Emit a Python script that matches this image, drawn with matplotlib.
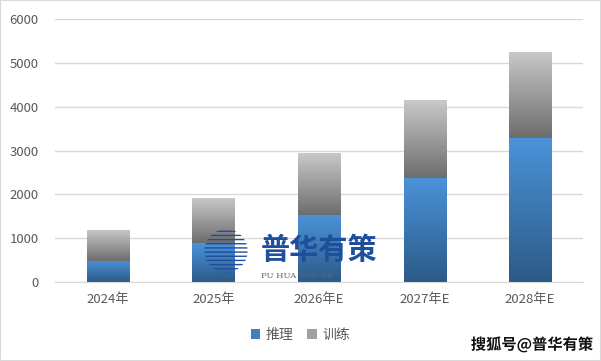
import numpy as np
import matplotlib
matplotlib.use("Agg")
import matplotlib.pyplot as plt
from matplotlib.colors import LinearSegmentedColormap
from matplotlib.patches import Patch, Rectangle, Ellipse
import matplotlib.patheffects as pe

plt.rcParams['font.family'] = ['Noto Sans CJK SC', 'DejaVu Sans']

years = ['2024年', '2025年', '2026年E', '2027年E', '2028年E']
inference = [480, 890, 1530, 2380, 3280]
training = [710, 1030, 1415, 1775, 1970]

blue_cmap = LinearSegmentedColormap.from_list('b', ['#2c5a87', '#4b93da'])
gray_cmap = LinearSegmentedColormap.from_list('g', ['#6d6d6d', '#c9c9c9'])

fig = plt.figure(figsize=(6.01, 3.61), dpi=100)
ax = fig.add_axes([0.092, 0.219, 0.878, 0.728])

x = np.arange(len(years))
w = 0.4
grad = np.linspace(0, 1, 256).reshape(-1, 1)

b1 = ax.bar(x, inference, w, color='none')
b2 = ax.bar(x, training, w, bottom=inference, color='none')
for bars, cmap in ((b1, blue_cmap), (b2, gray_cmap)):
    for r in bars:
        x0, y0 = r.get_x(), r.get_y()
        im = ax.imshow(grad, cmap=cmap, origin='lower', aspect='auto',
                       extent=[x0, x0 + r.get_width(), y0, y0 + r.get_height()],
                       zorder=2)
        im.set_clip_path(r)

ax.set_xlim(-0.5, len(years) - 0.5)
ax.set_ylim(0, 6000)
ax.set_yticks(range(0, 6001, 1000))
ax.set_xticks(x)
ax.set_xticklabels(years)
ax.yaxis.grid(True, color='#d9d9d9', linewidth=1)
ax.set_axisbelow(True)
for s in ['top', 'right', 'left']:
    ax.spines[s].set_visible(False)
ax.spines['bottom'].set_color('#d9d9d9')
ax.tick_params(length=0, colors='#595959', labelsize=9.5)
ax.tick_params(axis='x', pad=8)
ax.tick_params(axis='y', pad=12)

handles = [Patch(facecolor='#3f7fc0'), Patch(facecolor='#a0a0a0')]
fig.legend(handles, ['推理', '训练'], loc='center', bbox_to_anchor=(0.5, 0.072),
           ncol=2, frameon=False, fontsize=10, handlelength=0.7, handleheight=0.7,
           handletextpad=0.4, columnspacing=1.0, labelcolor='#595959')

# watermark
logo = Ellipse((0.376, 0.305), 0.072, 0.12, transform=fig.transFigure,
               facecolor='none', edgecolor='#1f4e9c', hatch='----', linewidth=0, zorder=5)
fig.patches.append(logo)
fig.text(0.53, 0.307, '普华有策', color='#1f4e9c', fontsize=21, fontweight='bold',
         ha='center', va='center', zorder=5)
fig.text(0.495, 0.235, 'PU HUA YOU CE', color='#666666', fontsize=6, ha='center',
         va='center', family='serif')
fig.text(0.885, 0.045, '搜狐号@普华有策', color='#111111', fontsize=11, fontweight='bold',
         ha='center', va='center',
         path_effects=[pe.withStroke(linewidth=2, foreground='white')])

fig.patches.append(Rectangle((0, 0), 1, 1, transform=fig.transFigure, fill=False,
                             edgecolor='#d9d9d9', linewidth=1.5))

fig.savefig('out.png', dpi=100)
